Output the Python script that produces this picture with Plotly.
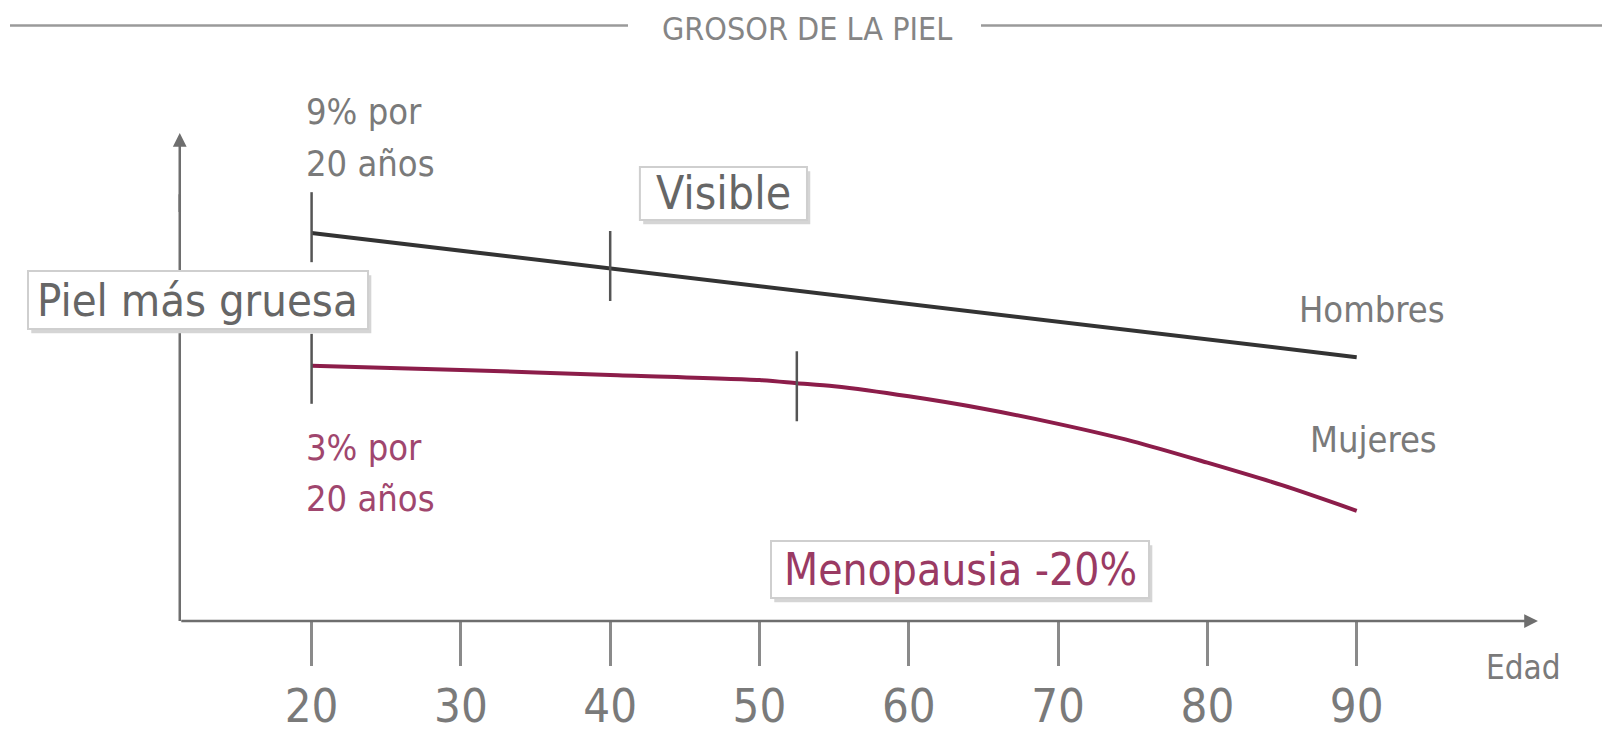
import plotly.graph_objects as go

# ---- data ----
ages_hombres = [20, 30, 40, 50, 60, 70, 80, 90]
grosor_hombres = [100, 95.4, 90.9, 86.3, 81.7, 77.1, 72.6, 68.0]

ages_mujeres = [20, 30, 40, 50, 52.5, 55, 60, 65, 70, 75, 80, 85, 90]
grosor_mujeres = [65.8, 64.7, 63.4, 62.1, 61.3, 60.5, 57.9, 54.7, 50.8, 46.3, 40.8, 35.0, 28.4]

hombres_marks_x = [20, 40]
hombres_marks_y = [101.5, 91.5]
mujeres_marks_x = [20, 52.5]
mujeres_marks_y = [65.0, 60.5]

tick_vals = [20, 30, 40, 50, 60, 70, 80, 90]
tick_text = ["20", "30", "40", "50", "60", "70", "80", "90"]

FONT = "DejaVu Sans Condensed, DejaVu Sans, sans-serif"
GRAY_TXT = "#7a7a7a"
PINK_TXT = "#a0466e"
LINE_H = "#333333"
LINE_M = "#8c1d4a"
AXIS = "#6e6e6e"

W, H = 1602, 749
XR = [-0.87, 106.43]
YR = [-32.99, 160.05]

fig = go.Figure()

fig.add_trace(go.Scatter(x=ages_hombres, y=grosor_hombres, mode="lines",
                         line=dict(color=LINE_H, width=4), hoverinfo="skip", showlegend=False))
fig.add_trace(go.Scatter(x=ages_mujeres, y=grosor_mujeres, mode="lines",
                         line=dict(color=LINE_M, width=4, shape="spline", smoothing=0.8),
                         hoverinfo="skip", showlegend=False))
for mx, my in ((hombres_marks_x, hombres_marks_y), (mujeres_marks_x, mujeres_marks_y)):
    fig.add_trace(go.Scatter(x=mx, y=my, mode="markers",
                             marker=dict(symbol="line-ns", size=50,
                                         line=dict(color="#555555", width=2.5)),
                             hoverinfo="skip", showlegend=False))

y_axis_x = 11.17
y_top = 125.8
x_tip = 102.14

# label boxes (x0, x1, y0, y1) in axis units
boxes = [
    (41.99, 53.18, 103.35, 117.0),   # Visible
    (1.005, 23.78, 75.26, 90.2),     # Piel más gruesa
    (50.77, 76.09, 5.93, 20.62),     # Menopausia -20%
]

shapes = [
    dict(type="line", xref="paper", yref="paper", x0=10 / W, x1=628 / W,
         y0=1 - 25.5 / H, y1=1 - 25.5 / H, line=dict(color="#9a9a9a", width=2.5)),
    dict(type="line", xref="paper", yref="paper", x0=981 / W, x1=1.0,
         y0=1 - 25.5 / H, y1=1 - 25.5 / H, line=dict(color="#9a9a9a", width=2.5)),
    # vertical axis body (drawn beneath the label boxes)
    dict(type="line", xref="x", yref="y", layer="above", x0=y_axis_x, x1=y_axis_x,
         y0=0, y1=110, line=dict(color=AXIS, width=2.5)),
]
for (bx0, bx1, by0, by1) in boxes:
    shapes.append(dict(type="rect", xref="x", yref="y", layer="above",
                       x0=bx0 + 0.22, x1=bx1 + 0.22, y0=by0 - 1.1, y1=by1 - 1.1,
                       fillcolor="#d5d5d5", line=dict(width=0)))
    shapes.append(dict(type="rect", xref="x", yref="y", layer="above",
                       x0=bx0, x1=bx1, y0=by0, y1=by1,
                       fillcolor="white", line=dict(color="#cfcfcf", width=2)))

annotations = [
    # axes arrows
    dict(x=y_axis_x, y=y_top, ax=y_axis_x, ay=105, xref="x", yref="y", axref="x", ayref="y",
         text="", showarrow=True, arrowhead=2, arrowsize=1.1, arrowwidth=2.5, arrowcolor=AXIS),
    dict(x=x_tip, y=0, ax=y_axis_x, ay=0, xref="x", yref="y", axref="x", ayref="y",
         text="", showarrow=True, arrowhead=2, arrowsize=1.1, arrowwidth=2.5, arrowcolor=AXIS),
    # title
    dict(x=0.5037, y=0.9613, xref="paper", yref="paper", text="GROSOR DE LA PIEL",
         showarrow=False, font=dict(family=FONT, size=32, color="#858585"),
         xanchor="center", yanchor="middle"),
    # text labels
    dict(x=19.49, y=131.2, xref="x", yref="y", text="9% por", showarrow=False,
         xanchor="left", yanchor="middle", font=dict(family=FONT, size=36, color=GRAY_TXT)),
    dict(x=19.49, y=118.0, xref="x", yref="y", text="20 años", showarrow=False,
         xanchor="left", yanchor="middle", font=dict(family=FONT, size=36, color=GRAY_TXT)),
    dict(x=19.49, y=44.7, xref="x", yref="y", text="3% por", showarrow=False,
         xanchor="left", yanchor="middle", font=dict(family=FONT, size=36, color=PINK_TXT)),
    dict(x=19.49, y=31.5, xref="x", yref="y", text="20 años", showarrow=False,
         xanchor="left", yanchor="middle", font=dict(family=FONT, size=36, color=PINK_TXT)),
    dict(x=91.03, y=80.2, xref="x", yref="y", text="Hombres", showarrow=False,
         xanchor="center", yanchor="middle", font=dict(family=FONT, size=36, color=GRAY_TXT)),
    dict(x=91.1, y=46.9, xref="x", yref="y", text="Mujeres", showarrow=False,
         xanchor="center", yanchor="middle", font=dict(family=FONT, size=36, color=GRAY_TXT)),
    dict(x=101.14, y=-12.1, xref="x", yref="y", text="Edad", showarrow=False,
         xanchor="center", yanchor="middle", font=dict(family=FONT, size=33, color=GRAY_TXT)),
    # boxed texts
    dict(x=47.59, y=110.2, xref="x", yref="y", text="Visible", showarrow=False,
         xanchor="center", yanchor="middle", font=dict(family=FONT, size=46, color="#666666")),
    dict(x=12.39, y=82.7, xref="x", yref="y", text="Piel más gruesa", showarrow=False,
         xanchor="center", yanchor="middle", font=dict(family=FONT, size=45, color="#666666")),
    dict(x=63.43, y=13.3, xref="x", yref="y", text="Menopausia -20%", showarrow=False,
         xanchor="center", yanchor="middle", font=dict(family=FONT, size=44, color="#9a3a63")),
]

fig.update_layout(
    width=W, height=H, margin=dict(l=0, r=0, t=0, b=0),
    paper_bgcolor="white", plot_bgcolor="white",
    annotations=annotations, shapes=shapes,
    xaxis=dict(range=XR, showgrid=False, zeroline=False, showline=False,
               anchor="free", position=1 - 621 / H,
               tickmode="array", tickvals=tick_vals, ticktext=tick_text,
               ticks="outside", ticklen=44, tickwidth=2.5, tickcolor="#8a8a8a",
               ticklabelstandoff=0,
               tickfont=dict(family=FONT, size=47, color="#7a7a7a"), fixedrange=True),
    yaxis=dict(range=YR, visible=False, fixedrange=True),
    showlegend=False,
)

fig.write_html("out.html", config={"displayModeBar": False},
               post_script="document.body.style.margin='0';")
